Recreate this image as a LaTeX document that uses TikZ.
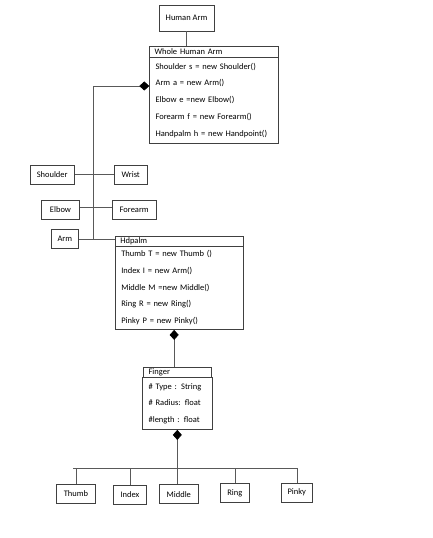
\documentclass[tikz,border=0pt]{standalone}
\usepackage{fontspec}
\setmainfont{Carlito}
\usepackage{tikz}
\usetikzlibrary{shapes}
\usetikzlibrary{arrows.meta}
\tikzstyle{plain}=[rectangle,draw=black!75,line width=0.6pt,inner sep=0mm,minimum height=19bp]
\tikzstyle{classhead}=[rectangle,draw=black!75,line width=0.6pt,anchor=north west,inner xsep=5bp,inner ysep=0mm,align=left]
\tikzstyle{classbody}=[rectangle,draw=black!75,line width=0.6pt,anchor=north west,inner xsep=6bp,inner ysep=0mm,align=left,font=\fontsize{8.5}{16.8}\selectfont]
\tikzstyle{link}=[draw=black!65,line width=0.6pt]
\tikzstyle{comp}=[link,{Diamond[length=10bp,width=9bp,black,fill=black]}-]
\tikzset{every picture/.style={
    font=\fontsize{8.5}{10}\selectfont
  }
}
\begin{document}
\begin{tikzpicture}[x=1bp,y=-1bp]
    \useasboundingbox (0,0) rectangle (432,538);
    \node[plain,minimum width=55bp,minimum height=26bp] at (186.5,18) (humanarm) {Human Arm};
    \node[classhead,text width=118.4bp,minimum height=11bp] at (149.3,45.7) (wholehead) {Whole Human Arm};
    \node[classbody,text width=116.4bp,minimum height=86.6bp] at (149.3,56.7) (wholebody) {Shoulder s = new Shoulder()\\Arm a = new Arm()\\Elbow e =new Elbow()\\Forearm f = new Forearm()\\Handpalm h = new Handpoint()};
    \draw[link] (humanarm.south) -- (humanarm.south |- wholehead.north);

    \node[plain,minimum width=44.3bp] at (52.2,174.7) (shoulder) {Shoulder};
    \node[plain,minimum width=32.7bp] at (130.7,175) (wrist) {Wrist};
    \node[plain,minimum width=37.6bp] at (60.5,210) (elbow) {Elbow};
    \node[plain,minimum width=43.7bp] at (134.2,210) (forearm) {Forearm};
    \node[plain,minimum width=27.7bp] at (64.9,238.8) (arm) {Arm};
    \node[classhead,text width=117.7bp,minimum height=10bp] at (115,235.7) (hdhead) {Hdpalm};
    \node[classbody,text width=115.7bp,minimum height=83.6bp] at (115,245.7) (hdbody) {Thumb T = new Thumb ()\\Index I = new Arm()\\Middle M =new Middle()\\Ring R = new Ring()\\Pinky P = new Pinky()};
    \coordinate (trunk) at (93,86);
    \draw[comp] (trunk -| wholebody.west) -- (trunk) -- (trunk |- arm.east);
    \draw[link] (shoulder.east) -- (wrist.west |- shoulder.east);
    \draw[link] ([yshift=2.5bp]elbow.east) -- ([yshift=2.5bp]forearm.west);
    \draw[link] (arm.east) -- (arm.east -| hdhead.west);

    \node[classhead,text width=57.4bp,minimum height=10.6bp] at (143.3,366.7) (fingerhead) {Finger};
    \node[classbody,text width=57.4bp,minimum height=52bp] at (142.3,377.3) (fingerbody) {\# Type : String\\\# Radius: float\\\#length : float};
    \draw[comp] ([xshift=-5bp]hdbody.south) -- ([xshift=-5bp]hdbody.south |- fingerhead.north);

    \node[plain,minimum width=38.3bp] at (75.9,493.7) (thumb) {Thumb};
    \node[plain,minimum width=33.4bp] at (130,494.3) (index) {Index};
    \node[plain,minimum width=39bp] at (178.8,494.2) (middle) {Middle};
    \node[plain,minimum width=29bp] at (234.8,493.2) (ring) {Ring};
    \node[plain,minimum width=31bp] at (296.8,492.7) (pinky) {Pinky};
    \coordinate (bus) at (177,468);
    \draw[comp] (fingerbody.south) -- (fingerbody.south |- middle.north);
    \draw[link] ([xshift=-2.5bp]thumb.north |- bus) -- (pinky.north |- bus);
    \draw[link] (thumb.north) -- (thumb.north |- bus);
    \draw[link] (index.north) -- (index.north |- bus);
    \draw[link] (ring.north) -- (ring.north |- bus);
    \draw[link] (pinky.north) -- (pinky.north |- bus);
  \end{tikzpicture}
\end{document}
